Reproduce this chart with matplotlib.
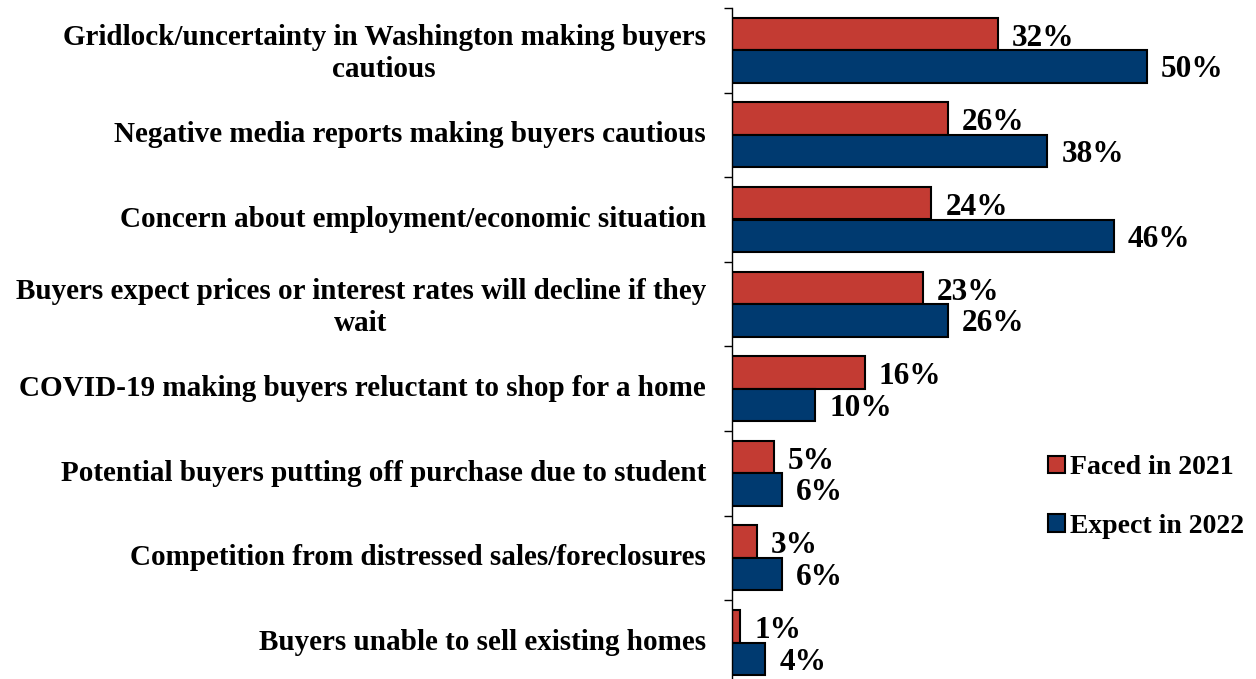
import numpy as np
import matplotlib.pyplot as plt
from matplotlib.patches import Patch

categories = [
    'Gridlock/uncertainty in Washington making buyers\ncautious',
    'Negative media reports making buyers cautious',
    'Concern about employment/economic situation',
    'Buyers expect prices or interest rates will decline if they\nwait',
    'COVID-19 making buyers reluctant to shop for a home',
    'Potential buyers putting off purchase due to student',
    'Competition from distressed sales/foreclosures',
    'Buyers unable to sell existing homes',
]
faced_2021 = [32, 26, 24, 23, 16, 5, 3, 1]
expect_2022 = [50, 38, 46, 26, 10, 6, 6, 4]
series_names = ['Faced in 2021', 'Expect in 2022']

red = '#C33B33'
blue = '#003A70'

plt.rcParams['font.family'] = ['Liberation Serif', 'DejaVu Serif']
plt.rcParams['font.weight'] = 'bold'

fig = plt.figure(figsize=(12.56, 6.79), dpi=100)
W, H = 1256, 679
# axes: x=0 at px 732, 8.3 px per percent; categories 84.6 px apart from y=8
top_px, step_px = 8, 84.6
n = len(categories)
bottom_px = top_px + step_px * n
ax = fig.add_axes([732 / W, 1 - bottom_px / H, (W - 732) / W, step_px * n / H])
ax.set_xlim(0, (W - 732) / 8.3)
ax.set_ylim(n, 0)

y = np.arange(n) + 0.5
h = 0.385
ax.barh(y - h / 2, faced_2021, height=h, color=red, edgecolor='black', linewidth=1.5)
ax.barh(y + h / 2, expect_2022, height=h, color=blue, edgecolor='black', linewidth=1.5)

for yi, v in zip(y, faced_2021):
    ax.text(v + 1.7, yi - h / 2 + 0.05, f'{v}%', va='center', ha='left', fontsize=22.5, fontweight='bold')
for yi, v in zip(y, expect_2022):
    ax.text(v + 1.7, yi + h / 2 + 0.04, f'{v}%', va='center', ha='left', fontsize=22.5, fontweight='bold')

# category labels sit left of the tick marks; two-line ones a touch lower
for yi, lab in zip(y, categories):
    dy = 0.04 if '\n' in lab else 0.0
    ax.text(-0.05, yi + dy, lab, transform=ax.get_yaxis_transform(), ha='right', va='center',
            multialignment='center', fontsize=21, fontweight='bold', linespacing=1.25)

ax.set_yticks(np.arange(n + 1))
ax.set_yticklabels([])
ax.tick_params(axis='y', length=6, width=1, direction='out')
ax.set_xticks([])
for s in ['top', 'right', 'bottom']:
    ax.spines[s].set_visible(False)
ax.spines['left'].set_linewidth(1)

handles = [Patch(facecolor=red, edgecolor='black', linewidth=1.5),
           Patch(facecolor=blue, edgecolor='black', linewidth=1.5)]
fig.legend(handles, series_names, loc='center left', bbox_to_anchor=(1048 / W, 1 - 497 / H),
           frameon=False, prop={'family': 'Liberation Serif', 'weight': 'bold', 'size': 20},
           handlelength=0.6, handleheight=0.6, handletextpad=0.2, labelspacing=1.2,
           borderpad=0, borderaxespad=0)

fig.savefig('out.png', dpi=100)
